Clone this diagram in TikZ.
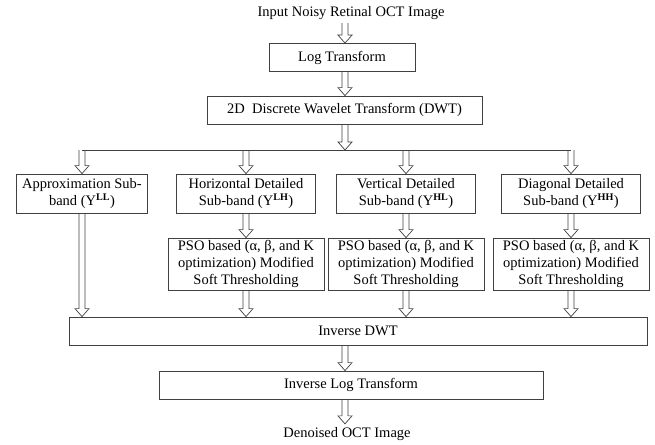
\documentclass[tikz,border=0pt]{standalone}
\usepackage{fontspec}
\setmainfont{Liberation Serif}
\usetikzlibrary{calc,positioning}
\tikzset{>=latex}
\tikzset{font=\fontsize{14.5}{17}\selectfont}
\tikzset{stagebox/.style={draw=black!75, line width=0.8pt, align=center,
    inner sep=2pt, minimum height=28pt}}
% hollow block arrow drawn between two points
\tikzset{hollow/.style={draw=black!75, line width=0.7pt, to path={
    let \p1=(\tikztostart), \p2=(\tikztotarget) in
    (\x1-3pt,\y1) -- (\x1-3pt,\y2+8pt) -- (\x1-7pt,\y2+8pt) -- (\x1,\y2)
    -- (\x1+7pt,\y2+8pt) -- (\x1+3pt,\y2+8pt) -- (\x1+3pt,\y1)}}}
\newcommand{\ysup}[1]{Y\textsuperscript{\textbf{#1}}}
\begin{document}
\begin{tikzpicture}[x=1pt,y=-1pt]
  \useasboundingbox (0,0) rectangle (655,444);
  \coordinate (mid) at (345,0);
  \node (input) at (351,13) {Input Noisy Retinal OCT Image};
  \node[stagebox, minimum width=146pt] (log) at (342,57.5) {Log Transform};
  \node[stagebox, minimum width=275pt] (dwt) at (344.5,110)
    {2D\ \ Discrete Wavelet Transform (DWT)};
  \coordinate (split) at (345,150);
  % sub-bands
  \node[stagebox, minimum width=131pt, minimum height=39pt] (ll) at (82,193.5)
    {Approximation Sub-\\band (\ysup{LL})};
  \node[stagebox, minimum width=139pt, minimum height=39pt] (lh) at (246,193.5)
    {Horizontal Detailed\\Sub-band (\ysup{LH})};
  \node[stagebox, minimum width=139pt, minimum height=39pt] (hl) at (406,193.5)
    {Vertical Detailed\\Sub-band (\ysup{HL})};
  \node[stagebox, minimum width=139pt, minimum height=39pt] (hh) at (571,193.5)
    {Diagonal Detailed\\Sub-band (\ysup{HH})};
  % thresholding
  \foreach \b in {lh,hl,hh}
    \node[stagebox, minimum width=156pt, minimum height=52pt] (pso\b)
      at (\b.center |- 0,264)
      {PSO based (α, β, and K\\optimization) Modified\\Soft Thresholding};
  \node[stagebox, minimum width=578pt] (idwt) at (358,331) {Inverse DWT};
  \node[stagebox, minimum width=384pt] (ilog) at (351,385) {Inverse Log Transform};
  \node (output) at (347,434) {Denoised OCT Image};
  % connectors
  \draw[hollow] (mid |- input.south) to (mid |- log.north);
  \draw[hollow] (mid |- log.south) to (mid |- dwt.north);
  \draw[hollow] (mid |- dwt.south) to (split);
  \draw[draw=black!75, line width=0.7pt] (ll.north |- split) -- (hh.north |- split);
  \foreach \b in {ll,lh,hl,hh}
    \draw[hollow] (\b.north |- split) to (\b.north);
  \foreach \b in {lh,hl,hh}
    \draw[hollow] (\b.south) to (pso\b.north);
  \draw[hollow] (ll.south) to (ll.south |- idwt.north);
  \foreach \b in {lh,hl,hh}
    \draw[hollow] (pso\b.south) to (pso\b.south |- idwt.north);
  \draw[hollow] (mid |- idwt.south) to (mid |- ilog.north);
  \draw[hollow] (mid |- ilog.south) to (mid |- output.north);
\end{tikzpicture}
\end{document}
